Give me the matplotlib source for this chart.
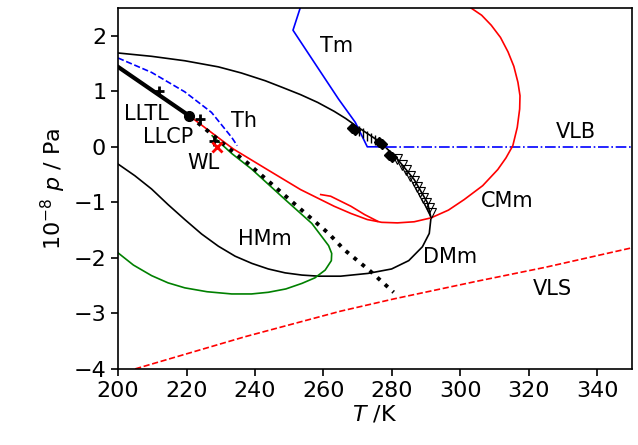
import numpy as np
import matplotlib
matplotlib.use('Agg')
import matplotlib.pyplot as plt

# outer black curve (DMm)
dm_T = [200, 209.8, 219.5, 229.3, 236, 243, 248, 253.3, 258.3, 263.1, 266.5, 269.9, 276.7,
        281.6, 286.5, 290.4, 291.4, 290.9, 288.9, 284.9, 279.9, 273, 265, 258.6, 253.7,
        248.8, 243.9, 239.1, 234.2, 229.3, 224.4, 219.5, 214.6, 209.8, 204.9, 200]
dm_p = [1.69, 1.63, 1.55, 1.44, 1.33, 1.19, 1.07, 0.94, 0.80, 0.64, 0.51, 0.36, 0.08,
        -0.22, -0.59, -1.01, -1.28, -1.56, -1.80, -2.05, -2.2, -2.28, -2.33, -2.33, -2.31,
        -2.27, -2.20, -2.10, -1.97, -1.79, -1.57, -1.31, -1.04, -0.76, -0.52, -0.31]

# LLTL (thick black) and LLCP
lltl_T = [200, 221]
lltl_p = [1.44, 0.55]
llcp_T, llcp_p = 220.8, 0.55
plus_T = [211.9, 224, 228]
plus_p = [1.0, 0.5, 0.11]
wl_T, wl_p = 228.8, 0.0

# red curve: LLCP -> minimum -> CMm loop
cm_T = [221, 224, 233.7, 243.6, 253.3, 263.1, 268, 272.8, 277, 281.6, 286.5, 291.4, 296.5,
        301.1, 306.5, 310.9, 313.3, 315.3, 316.6, 317.3, 317.4, 316.8, 315.6, 313.9, 311.7,
        309, 306.2, 303.1]
cm_p = [0.55, 0.41, -0.04, -0.41, -0.77, -1.07, -1.20, -1.31, -1.36, -1.37, -1.35, -1.28, -1.14,
        -0.95, -0.70, -0.41, -0.20, 0.02, 0.35, 0.68, 0.92, 1.16, 1.45, 1.71, 1.97,
        2.19, 2.37, 2.5]
cm2_T = [259.2, 262.1, 268, 272, 275.8]
cm2_p = [-0.86, -0.89, -1.07, -1.22, -1.34]

# green curve (HMm)
hm_T = [227.5, 233.2, 239, 248.8, 256.6, 261.5, 262.4, 262.3, 260.5, 257.5, 253.7, 249, 243.9,
        239, 233.2, 226, 219.5, 214.6, 209.8, 204.5, 200]
hm_p = [0.2, -0.12, -0.40, -0.95, -1.38, -1.78, -1.92, -2.05, -2.22, -2.36, -2.46, -2.56, -2.62,
        -2.65, -2.65, -2.61, -2.54, -2.45, -2.32, -2.13, -1.91]

# dotted black line
dot_T = [221, 233.2, 237.6, 247.3, 254.2, 261.5, 266, 273.5, 280.5]
dot_p = [0.55, -0.07, -0.28, -0.80, -1.17, -1.56, -1.85, -2.23, -2.62]

# blue dashed (Th)
th_T = [200, 209.8, 219.5, 227.3, 233.2, 234.8]
th_p = [1.60, 1.34, 0.99, 0.62, 0.17, 0.02]

# blue solid (Tm) and VLB
tm_T = [253.2, 251.1, 258.6, 264.4, 269.3, 272.8, 278.2]
tm_p = [2.5, 2.10, 1.40, 0.86, 0.44, 0.0, 0.0]
vlb_T = [278.2, 350]
vlb_p = [0.0, 0.0]

# VLS red dashed
vls_T = [205, 237.1, 265, 280.5, 304.9, 324.8, 350]
vls_p = [-4.0, -3.42, -2.96, -2.74, -2.42, -2.17, -1.82]

# markers along the black curve
dia_T = [268.4, 269.2, 276.2, 277.2, 279.2, 280]
dia_p = [0.34, 0.31, 0.09, 0.05, -0.14, -0.19]
bar_T = [270.3, 271.6, 272.8, 273.9, 275]
bar_p = [0.29, 0.24, 0.2, 0.16, 0.12]
tri_T = [281.6, 282.8, 284, 285.2, 286.3, 287.3, 288.3, 289.2, 290, 290.7, 291.3]
tri_p = [-0.22, -0.32, -0.42, -0.52, -0.62, -0.72, -0.82, -0.92, -1.02, -1.11, -1.2]

labels = ['Tm', 'LLTL', 'LLCP', 'Th', 'WL', 'VLB', 'CMm', 'HMm', 'DMm', 'VLS']
lab_T = [263.9, 208.2, 214.5, 236.9, 225, 333.8, 313.8, 243, 297.1, 326.9]
lab_p = [1.82, 0.59, 0.18, 0.47, -0.3, 0.27, -0.97, -1.66, -1.98, -2.56]

fig = plt.figure(figsize=(6.38, 4.45), dpi=100)
ax = fig.add_axes([0.185, 0.171, 0.805, 0.811])

ax.plot(dm_T, dm_p, color='black', lw=1.2)
ax.plot(th_T, th_p, color='blue', ls='--', lw=1.2)
ax.plot(tm_T, tm_p, color='blue', lw=1.2)
ax.plot(vlb_T, vlb_p, color='blue', ls='-.', lw=1.2)
ax.plot(vls_T, vls_p, color='red', ls='--', lw=1.2)
ax.plot(hm_T, hm_p, color='green', lw=1.2)
ax.plot(cm_T, cm_p, color='red', lw=1.2)
ax.plot(cm2_T, cm2_p, color='red', lw=1.2)
ax.plot(dot_T, dot_p, color='black', ls=':', lw=2.8)
ax.plot(lltl_T, lltl_p, color='black', lw=3)
ax.plot(llcp_T, llcp_p, 'o', color='black', ms=7)
ax.plot(plus_T, plus_p, '+', color='black', ms=7, mew=2)
ax.plot(wl_T, wl_p, 'x', color='red', ms=7, mew=2)
ax.plot(bar_T, bar_p, '|', color='black', ms=7, mew=1)
ax.plot(tri_T, tri_p, 'v', mfc='none', mec='black', ms=7, mew=0.8)
ax.plot(dia_T, dia_p, 'D', color='black', ms=5)

for s, x, y in zip(labels, lab_T, lab_p):
    ax.text(x, y, s, fontsize=15, ha='center', va='center')

ax.set_xlim(200, 350)
ax.set_ylim(-4, 2.5)
ax.set_xticks(np.arange(200, 341, 20))
ax.set_yticks(np.arange(-4, 3, 1))
ax.tick_params(labelsize=16, width=1.2, length=5)
for sp in ax.spines.values():
    sp.set_linewidth(1.2)
ax.set_xlabel('$T$ /K', fontsize=16, labelpad=2)
ax.set_ylabel('$10^{-8}\\ p$ / Pa', fontsize=16)

fig.savefig('out.png', dpi=100)
